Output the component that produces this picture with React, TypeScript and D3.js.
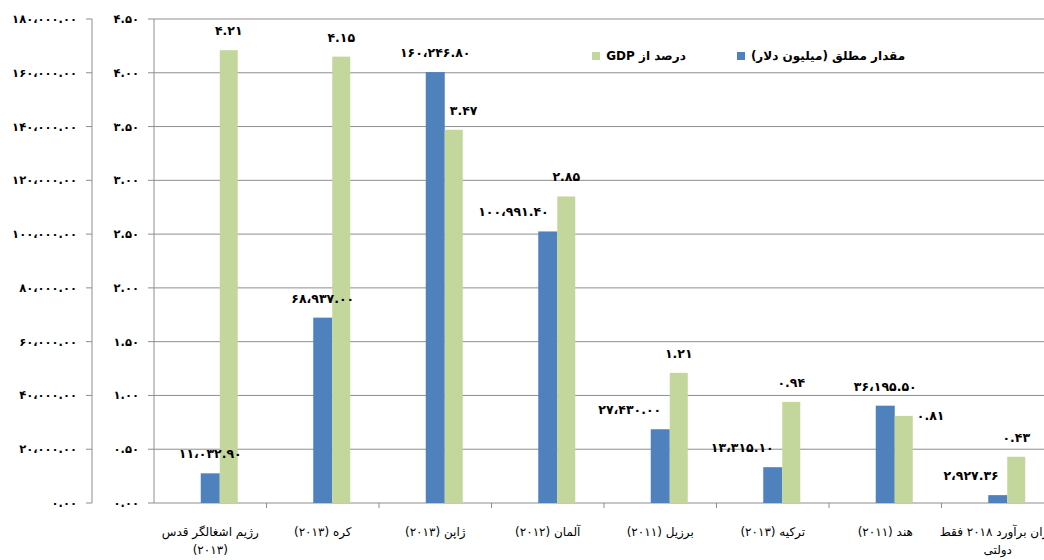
import React from "react";
import * as d3 from "d3";

const categories = [
  "رژیم اشغالگر قدس|(۲۰۱۳)",
  "کره (۲۰۱۳)",
  "ژاپن (۲۰۱۳)",
  "آلمان (۲۰۱۲)",
  "برزیل (۲۰۱۱)",
  "ترکیه (۲۰۱۳)",
  "هند (۲۰۱۱)",
  "ایران برآورد ۲۰۱۸ فقط|دولتی",
];
const absoluteValues = [11032.9, 68937.0, 160246.8, 100991.4, 27430.0, 13315.1, 36195.5, 2927.36];
const gdpPercent = [4.21, 4.15, 3.47, 2.85, 1.21, 0.94, 0.81, 0.43];
const leftTicks = [0, 20000, 40000, 60000, 80000, 100000, 120000, 140000, 160000, 180000];
const rightTicks = [0, 0.5, 1, 1.5, 2, 2.5, 3, 3.5, 4, 4.5];
const seriesNames = ["مقدار مطلق (میلیون دلار)", "درصد از GDP"];
const blueLabelAlign = ["middle", "middle", "middle", "end", "end", "end", "middle", "end"];
const greenLabelAlign = ["above", "above", "aboveRight", "above", "above", "above", "right", "above"];

const BLUE = "#4F81BD";
const GREEN = "#C3D69B";
const GRID = "#8E8E8E";

const toFa = (s: string) =>
  s.replace(/[0-9]/g, (d) => "۰۱۲۳۴۵۶۷۸۹"[+d]).replace(/,/g, "،");
const fmt = (v: number) => toFa(d3.format(",.2f")(v));

export default function App() {
  const W = 1044, H = 560;
  const top = 19, bottom = 503;
  const plotLeft = 154;
  const catW = 112.5;
  const x0 = d3
    .scaleBand<string>()
    .domain(categories)
    .range([plotLeft, plotLeft + catW * categories.length])
    .paddingInner(0)
    .paddingOuter(0);
  const yL = d3.scaleLinear().domain([0, 180000]).range([bottom, top]);
  const yR = d3.scaleLinear().domain([0, 4.5]).range([bottom, top]);
  const center = (c: string) => (x0(c) as number) + x0.bandwidth() / 2;
  const bw = 19;

  const labelFont = "DejaVu Sans";

  return (
    <svg
      width={W}
      height={H}
      style={{ position: "absolute", left: 0, top: 0, background: "#fff" }}
      fontFamily={labelFont}
    >
      <rect x={0} y={0} width={W} height={H} fill="#fff" />
      {/* gridlines */}
      {rightTicks.map((t) => (
        <line key={"g" + t} x1={plotLeft} x2={W} y1={yR(t)} y2={yR(t)} stroke={GRID} strokeWidth={1} />
      ))}
      {/* category ticks */}
      {categories.map((c, i) => (
        <line
          key={"ct" + i}
          x1={(x0(c) as number) + catW}
          x2={(x0(c) as number) + catW}
          y1={bottom}
          y2={bottom + 5}
          stroke={GRID}
        />
      ))}
      {/* left axis */}
      <line x1={92} x2={92} y1={top} y2={bottom} stroke={GRID} strokeWidth={1} />
      {leftTicks.map((t) => (
        <g key={"lt" + t}>
          <line x1={86} x2={92} y1={yL(t)} y2={yL(t)} stroke={GRID} />
          <text x={77} y={yL(t)} dy="0.35em" textAnchor="end" fontSize={11.5} fontWeight="bold" fill="#000">
            {fmt(t)}
          </text>
        </g>
      ))}
      {/* right (secondary) axis */}
      <line x1={plotLeft} x2={plotLeft} y1={top} y2={bottom} stroke={GRID} strokeWidth={1} />
      {rightTicks.map((t) => (
        <g key={"rt" + t}>
          <line x1={148} x2={plotLeft} y1={yR(t)} y2={yR(t)} stroke={GRID} />
          <text x={139} y={yR(t)} dy="0.35em" textAnchor="end" fontSize={11.5} fontWeight="bold" fill="#000">
            {fmt(t)}
          </text>
        </g>
      ))}
      {/* bars */}
      {categories.map((c, i) => {
        const cx = center(c);
        return (
          <g key={"b" + i}>
            <rect x={cx - bw / 2} y={yL(absoluteValues[i])} width={bw} height={bottom - yL(absoluteValues[i])} fill={BLUE} />
            <rect x={cx + bw / 2} y={yR(gdpPercent[i])} width={bw - 1} height={bottom - yR(gdpPercent[i])} fill={GREEN} />
          </g>
        );
      })}
      {/* blue labels */}
      {categories.map((c, i) => {
        const cx = center(c);
        const a = blueLabelAlign[i];
        return (
          <text
            key={"bl" + i}
            x={a === "end" ? cx + 1 : cx}
            y={yL(absoluteValues[i]) - 15}
            textAnchor={a}
            fontSize={12.5}
            fontWeight="bold"
            fill="#000"
          >
            {fmt(absoluteValues[i])}
          </text>
        );
      })}
      {/* green labels */}
      {categories.map((c, i) => {
        const gx = center(c) + bw / 2;
        const gw = bw - 1;
        const a = greenLabelAlign[i];
        const yt = yR(gdpPercent[i]);
        let x = gx + gw / 2, y = yt - 15, anchor = "middle";
        if (a === "aboveRight") { x = gx + 5; anchor = "start"; }
        if (a === "right") { x = gx + gw + 4; y = yt + 4; anchor = "start"; }
        return (
          <text key={"gl" + i} x={x} y={y} textAnchor={anchor} fontSize={12.5} fontWeight="bold" fill="#000">
            {fmt(gdpPercent[i])}
          </text>
        );
      })}
      {/* category labels */}
      {categories.map((c, i) => {
        const lines = c.split("|");
        return (
          <text key={"cl" + i} textAnchor="middle" fontSize={12} fill="#000" direction="rtl">
            {lines.map((ln, j) => (
              <tspan key={j} x={center(c)} y={536 + j * 18} direction="rtl">
                {ln}
              </tspan>
            ))}
          </text>
        );
      })}
      {/* legend */}
      <rect x={737} y={52} width={8} height={8} fill={BLUE} />
      <text x={828} y={60} textAnchor="middle" direction="rtl" fontSize={12} fontWeight="bold" fill="#000">
        {seriesNames[0]}
      </text>
      <rect x={592} y={52} width={8} height={8} fill={GREEN} />
      <text x={646} y={60} textAnchor="middle" direction="rtl" fontSize={12} fontWeight="bold" fill="#000">
        {seriesNames[1]}
      </text>
    </svg>
  );
}
